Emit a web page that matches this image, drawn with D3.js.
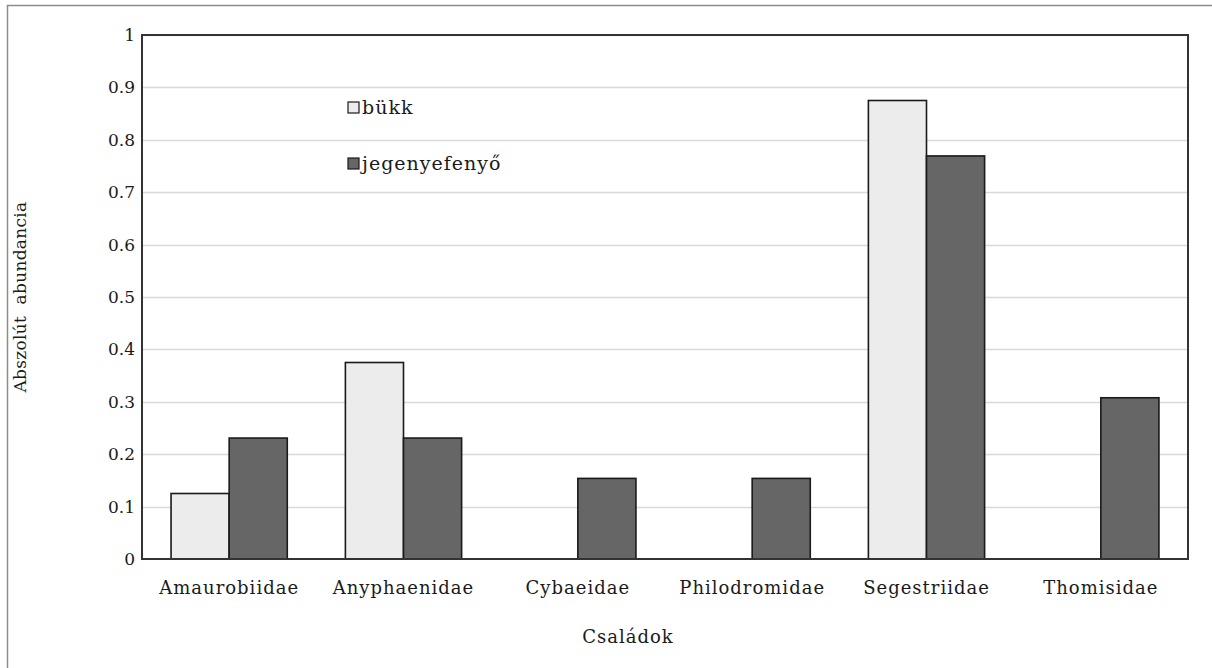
<!DOCTYPE html>
<html>
<head>
<meta charset="utf-8">
<script src="https://cdn.jsdelivr.net/npm/d3@7"></script>
<style>
  body { margin: 0; background: #fff; }
</style>
</head>
<body>
<div class="chart"></div>
<script>
(function () {
    'use strict';

    const families = ['Amaurobiidae', 'Anyphaenidae', 'Cybaeidae', 'Philodromidae', 'Segestriidae', 'Thomisidae'];
    const bukk = [0.125, 0.375, 0, 0, 0.875, 0];
    const jegenye = [0.2308, 0.2308, 0.1538, 0.1538, 0.7692, 0.3077];
    const seriesNames = ['bükk', 'jegenyefenyő'];
    const seriesColors = ['#ececec', '#666666'];
    const yTicks = [0, 0.1, 0.2, 0.3, 0.4, 0.5, 0.6, 0.7, 0.8, 0.9, 1];

    const W = 1212, H = 668;
    const margin = { top: 35, left: 142, right: 24, bottom: 109 };
    const serif = '"DejaVu Serif", "Liberation Serif", serif';

    const svg = d3.select('.chart').append('svg').attr('width', W).attr('height', H)
        .style('font-family', serif);

    // outer frame
    svg.append('rect')
        .attr('x', 7.5).attr('y', 5.5)
        .attr('width', W + 10).attr('height', H + 10)
        .style('fill', 'none').style('stroke', '#8c8c8c').style('stroke-width', 1.5);

    const x = d3.scaleBand().domain(families)
        .range([margin.left, W - margin.right])
        .paddingInner(1 / 3).paddingOuter(1 / 6);
    const xs = d3.scaleBand().domain(seriesNames).range([0, x.bandwidth()]);
    const y = d3.scaleLinear().domain([0, 1]).range([H - margin.bottom, margin.top]);

    // gridlines
    svg.append('g').selectAll('line').data(yTicks.slice(1))
        .enter().append('line')
        .attr('x1', margin.left).attr('x2', W - margin.right)
        .attr('y1', function (d) { return Math.round(y(d)) + 0.5; })
        .attr('y2', function (d) { return Math.round(y(d)) + 0.5; })
        .style('stroke', '#d9d9d9').style('stroke-width', 1.5);

    // y tick labels
    svg.append('g').selectAll('text').data(yTicks)
        .enter().append('text')
        .attr('x', margin.left - 7)
        .attr('y', function (d) { return y(d); })
        .attr('dy', '0.35em')
        .attr('text-anchor', 'end')
        .style('font-size', '17px')
        .style('fill', '#1a1a1a')
        .text(function (d) { return d3.format('')(d); });

    // bars
    const rows = families.map(function (f, i) {
        return { name: f, values: [bukk[i], jegenye[i]] };
    });
    const groups = svg.append('g').selectAll('g').data(rows)
        .enter().append('g')
        .attr('transform', function (d) { return 'translate(' + x(d.name) + ',0)'; });

    groups.selectAll('rect')
        .data(function (d) {
            return d.values.map(function (v, j) { return { key: seriesNames[j], value: v, color: seriesColors[j] }; })
                .filter(function (e) { return e.value > 0; });
        })
        .enter().append('rect')
        .attr('x', function (d) { return xs(d.key); })
        .attr('y', function (d) { return y(d.value); })
        .attr('width', xs.bandwidth())
        .attr('height', function (d) { return y(0) - y(d.value); })
        .style('fill', function (d) { return d.color; })
        .style('stroke', '#1a1a1a').style('stroke-width', 1.6);

    // plot frame
    svg.append('rect')
        .attr('x', margin.left).attr('y', margin.top)
        .attr('width', W - margin.left - margin.right)
        .attr('height', H - margin.top - margin.bottom)
        .style('fill', 'none').style('stroke', '#333').style('stroke-width', 2);

    // category labels
    svg.append('g').selectAll('text').data(families)
        .enter().append('text')
        .attr('x', function (d) { return x(d) + x.bandwidth() / 2; })
        .attr('y', 594)
        .attr('text-anchor', 'middle')
        .style('font-size', '18px')
        .style('letter-spacing', '1px')
        .style('fill', '#1a1a1a')
        .text(function (d) { return d; });

    // axis titles
    svg.append('text')
        .attr('x', 628)
        .attr('y', 643)
        .attr('text-anchor', 'middle')
        .style('font-size', '18px')
        .style('letter-spacing', '1px')
        .style('fill', '#1a1a1a')
        .text('Családok');

    svg.append('text')
        .attr('transform', 'translate(26,' + 297 + ') rotate(-90)')
        .attr('text-anchor', 'middle')
        .style('font-size', '17px')
        .style('letter-spacing', '0.3px')
        .style('white-space', 'pre')
        .style('fill', '#1a1a1a')
        .text('Abszolút  abundancia');

    // legend
    const legend = svg.append('g').attr('transform', 'translate(348,102)');
    const items = legend.selectAll('g').data(seriesNames)
        .enter().append('g')
        .attr('transform', function (d, i) { return 'translate(0,' + (i * 56) + ')'; });
    items.append('rect')
        .attr('width', 11).attr('height', 11)
        .style('fill', function (d, i) { return seriesColors[i]; })
        .style('stroke', '#1a1a1a').style('stroke-width', 1.2);
    items.append('text')
        .attr('x', 14).attr('y', 12)
        .style('font-size', '19px')
        .style('letter-spacing', '1px')
        .style('fill', '#1a1a1a')
        .text(function (d) { return d; });
})();
</script>
</body>
</html>
